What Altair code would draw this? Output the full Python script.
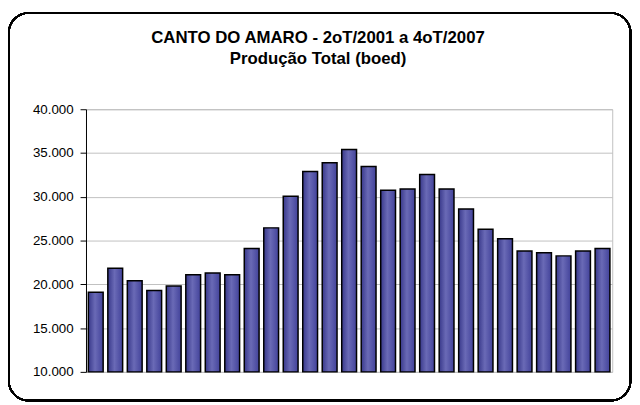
import altair as alt
import pandas as pd

quarters = [
    "2T01", "3T01", "4T01",
    "1T02", "2T02", "3T02", "4T02",
    "1T03", "2T03", "3T03", "4T03",
    "1T04", "2T04", "3T04", "4T04",
    "1T05", "2T05", "3T05", "4T05",
    "1T06", "2T06", "3T06", "4T06",
    "1T07", "2T07", "3T07", "4T07",
]
production = [
    19100, 21850, 20400, 19300, 19800, 21100, 21300, 21100, 24100, 26450,
    30050, 32900, 33900, 35400, 33450, 30750, 30900, 32550, 30900, 28600,
    26300, 25200, 23800, 23600, 23250, 23800, 24100,
]
title_lines = ["CANTO DO AMARO - 2oT/2001 a 4oT/2007", "Produção Total (boed)"]
y_ticks = [10000, 15000, 20000, 25000, 30000, 35000, 40000]

df = pd.DataFrame({"q": quarters, "v": production})

FONT = "Liberation Sans"
W, H = 533, 266
PAD_L, PAD_T = 79, 100
TOTAL_W, TOTAL_H = 632, 397

gradient = {
    "gradient": "linear",
    "x1": 0, "y1": 0, "x2": 1, "y2": 0,
    "stops": [
        {"offset": 0, "color": "#38388a"},
        {"offset": 0.45, "color": "#6a6ab6"},
        {"offset": 1, "color": "#42429a"},
    ],
}

border = alt.Chart(df).mark_rect(
    cornerRadius=20, fillOpacity=0, stroke="black", strokeWidth=1.6
).encode(
    x=alt.value(-PAD_L + 0.8),
    x2=alt.value(TOTAL_W - PAD_L - 1.5),
    y=alt.value(-PAD_T + 2.5),
    y2=alt.value(TOTAL_H - PAD_T - 2),
)

title_df = pd.DataFrame({"t": title_lines})

def title_text(i, y):
    return alt.Chart(title_df.iloc[[i]]).mark_text(
        font=FONT, fontSize=17, fontWeight="bold", color="black",
        align="center", baseline="alphabetic",
    ).encode(text="t:N", x=alt.value(314 - PAD_L), y=alt.value(y))

t1 = title_text(0, 33 - PAD_T)
t2 = title_text(1, 54 - PAD_T)

bars = alt.Chart(df).mark_bar(
    fill=gradient, stroke="black", strokeWidth=1.5
).encode(
    x=alt.X("q:N", sort=quarters, axis=None,
            scale=alt.Scale(paddingInner=0.24, paddingOuter=0.12)),
    y=alt.Y("v:Q", title=None,
            scale=alt.Scale(domain=[10000, 40000], nice=False, zero=False),
            axis=alt.Axis(values=y_ticks,
                          labelExpr="replace(format(datum.value, ','), ',', '.')",
                          labelFont=FONT, labelFontSize=13.5, labelColor="black",
                          labelPadding=7, tickSize=6, tickColor="black",
                          domainColor="black", domainWidth=1, tickWidth=1,
                          grid=True, gridColor="#c0c0c0", gridWidth=1)),
    y2=alt.datum(10000),
)

chart = alt.layer(border, t1, t2, bars).properties(
    width=W, height=H,
    padding={"left": PAD_L, "top": PAD_T,
             "right": TOTAL_W - PAD_L - W, "bottom": TOTAL_H - PAD_T - H},
    autosize=alt.AutoSizeParams(type="none"),
    background="white",
).configure_view(stroke="#c0c0c0", strokeWidth=1)

chart.save("out.html", embed_options={"renderer": "svg", "actions": False})
